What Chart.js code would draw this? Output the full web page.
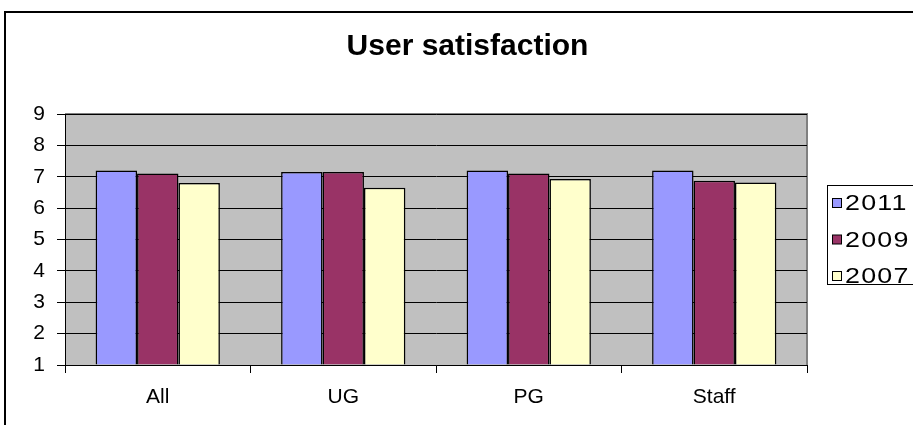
<!DOCTYPE html>
<html>
<head>
<meta charset="utf-8">
<title>User satisfaction</title>
<script src="https://cdn.jsdelivr.net/npm/chart.js@4"></script>
<style>
  body { margin: 0; background: #fff; }
  #chart { display: block; }
</style>
</head>
<body>
<canvas id="chart" width="913" height="425"></canvas>
<script>
const categories = ["All", "UG", "PG", "Staff"];
const seriesNames = ["2011", "2009", "2007"];
const values2011 = [7.2, 7.15, 7.2, 7.2];
const values2009 = [7.1, 7.15, 7.1, 6.87];
const values2007 = [6.8, 6.65, 6.93, 6.82];
const yTicks = [1, 2, 3, 4, 5, 6, 7, 8, 9];

const colors = ["#9999ff", "#993366", "#ffffcc"];
const FONT = "Arial, 'Liberation Sans', sans-serif";

// Plot background, frame and legend box
const decor = {
  id: "decor",
  beforeDraw(chart) {
    const { ctx, chartArea: a } = chart;
    ctx.save();
    ctx.fillStyle = "#c0c0c0";
    ctx.fillRect(a.left, a.top, a.right - a.left, a.bottom - a.top);
    ctx.strokeStyle = "#808080";
    ctx.lineWidth = 2;
    ctx.beginPath();
    ctx.moveTo(a.left, a.top);
    ctx.lineTo(a.right, a.top);
    ctx.lineTo(a.right, a.bottom);
    ctx.stroke();

    // outer frame (cut off at right and bottom)
    ctx.strokeStyle = "#000";
    ctx.lineWidth = 2;
    ctx.beginPath();
    ctx.moveTo(5, chart.height + 2);
    ctx.lineTo(5, 12);
    ctx.lineTo(chart.width + 2, 12);
    ctx.stroke();
    ctx.restore();
  },
  afterDraw(chart) {
    const { ctx } = chart;
    ctx.save();
    ctx.strokeStyle = "#000";
    ctx.lineWidth = 1;
    ctx.strokeRect(827.5, 185.5, 100, 99);
    chart.data.datasets.forEach((ds, i) => {
      const y = 203 + i * 36.5;
      ctx.fillStyle = ds.backgroundColor;
      ctx.fillRect(832.5, y - 4.5, 9, 9);
      ctx.strokeRect(832.5, y - 4.5, 9, 9);
      // legend text is drawn a bit wider, like the original
      ctx.save();
      ctx.translate(845, y + 1);
      ctx.scale(1.22, 1);
      ctx.font = "22px " + FONT;
      ctx.letterSpacing = "1px";
      ctx.textBaseline = "middle";
      ctx.fillStyle = "#000";
      ctx.fillText(ds.label, 0, 0);
      ctx.restore();
    });
    ctx.restore();
  }
};

const datasets = [values2011, values2009, values2007].map((vals, i) => ({
  label: seriesNames[i],
  data: vals,
  backgroundColor: colors[i],
  borderColor: "#000",
  borderWidth: 1.5,
  base: 1,
  categoryPercentage: 0.67,
  barPercentage: 1
}));

new Chart(document.getElementById("chart"), {
  type: "bar",
  data: { labels: categories, datasets },
  options: {
    responsive: false,
    animation: false,
    devicePixelRatio: 1,
    layout: { padding: { left: 22, right: 0, top: 0, bottom: 0 } },
    plugins: {
      legend: { display: false },
      tooltip: { enabled: false },
      title: {
        display: true,
        text: "User satisfaction",
        color: "#000",
        font: { family: FONT, size: 30, weight: "bold" },
        padding: { top: 29, bottom: 49 }
      }
    },
    scales: {
      x: {
        grid: { offset: true, drawOnChartArea: false, color: "#000", tickLength: 8 },
        border: { color: "#000", width: 1 },
        ticks: { color: "#000", font: { family: FONT, size: 21 }, padding: 12 },
        afterFit: s => { s.height = 60; }
      },
      y: {
        min: 1,
        max: 9,
        afterBuildTicks: s => { s.ticks = yTicks.map(v => ({ value: v })); },
        grid: {
          color: c => (c.tick && c.tick.value === 9 && c.type !== "tick") ? "#808080" : "#000",
          tickLength: 8
        },
        border: { color: "#000", width: 1 },
        ticks: { color: "#000", font: { family: FONT, size: 21 }, padding: 12 },
        afterFit: s => { s.width = 43; }
      },
      spacer: {
        position: "right",
        display: true,
        grid: { display: false, drawTicks: false },
        border: { display: false },
        ticks: { display: false },
        afterFit: s => { s.width = 106; }
      }
    }
  },
  plugins: [decor]
});
</script>
</body>
</html>
